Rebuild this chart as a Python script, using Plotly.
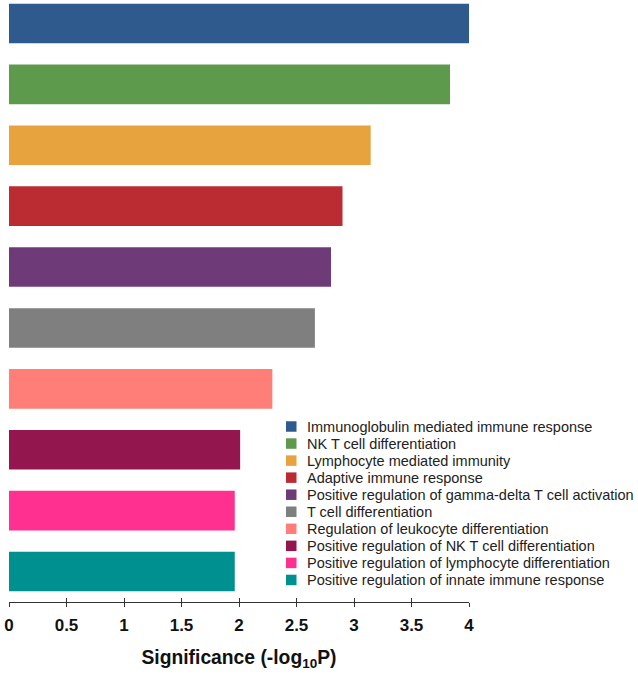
import plotly.graph_objects as go

categories = [
    "Immunoglobulin mediated immune response",
    "NK T cell differentiation",
    "Lymphocyte mediated immunity",
    "Adaptive immune response",
    "Positive regulation of gamma-delta T cell activation",
    "T cell differentiation",
    "Regulation of leukocyte differentiation",
    "Positive regulation of NK T cell differentiation",
    "Positive regulation of lymphocyte differentiation",
    "Positive regulation of innate immune response",
]
values = [4.00, 3.835, 3.145, 2.90, 2.80, 2.66, 2.29, 2.01, 1.963, 1.963]
colors = ["#2E5A8E", "#5E9A4C", "#E6A33E", "#BA2C32", "#6E3B78",
          "#7F7F7F", "#FF7F78", "#93174E", "#FF3090", "#00908F"]
x_ticks = [0, 0.5, 1, 1.5, 2, 2.5, 3, 3.5, 4]
x_ticktext = ["0", "0.5", "1", "1.5", "2", "2.5", "3", "3.5", "4"]

FONT = "Liberation Sans, Arial, Helvetica, sans-serif"
W, H = 638, 675
ML, MR, MT, MB = 9, 169, 0, 73
PW, PH = W - ML - MR, H - MT - MB

fig = go.Figure()
for cat, val, col in zip(categories, values, colors):
    fig.add_trace(go.Bar(
        x=[val], y=[cat], orientation="h", name=cat,
        marker=dict(color=col, line=dict(width=0)),
        width=0.65, showlegend=False,
    ))

# invisible trace so the overlaid axis (crossing tick marks) is drawn
fig.add_trace(go.Scatter(x=[0], y=[categories[-1]], xaxis="x2", mode="markers",
                         marker=dict(opacity=0), showlegend=False, hoverinfo="skip"))

# manual legend (square swatches + text), laid out in paper coordinates
sq = 10.5
leg_x0 = 286
leg_y0 = 426.5
leg_dy = 17.05
for i, (cat, col) in enumerate(zip(categories, colors)):
    cy = leg_y0 + i * leg_dy
    fig.add_shape(
        type="rect", xref="paper", yref="paper",
        x0=(leg_x0 - ML) / PW, x1=(leg_x0 + sq - ML) / PW,
        y0=(H - MB - (cy - sq / 2)) / PH, y1=(H - MB - (cy + sq / 2)) / PH,
        fillcolor=col, line=dict(width=0), layer="above",
    )
    fig.add_annotation(
        xref="paper", yref="paper",
        x=(305 - ML) / PW, y=(H - MB - cy) / PH,
        xanchor="left", yanchor="middle", showarrow=False,
        text=cat, font=dict(family=FONT, size=14.5, color="#222222"),
    )

fig.update_layout(
    width=W, height=H,
    margin=dict(l=ML, r=MR, t=MT, b=MB, autoexpand=False),
    barmode="overlay",
    plot_bgcolor="white", paper_bgcolor="white",
    font=dict(family=FONT, color="#222222"),
    showlegend=False,
    xaxis=dict(
        range=[0, 4], tickvals=x_ticks, ticktext=x_ticktext,
        showline=True, linecolor="#333333", linewidth=1.3,
        ticks="outside", ticklen=4, tickwidth=1.3, tickcolor="#333333",
        showgrid=False, zeroline=False,
        tickfont=dict(family=FONT, size=17, color="#111111", weight="bold"),
        ticklabelstandoff=3,
        title=dict(text="Significance (-log<sub>10</sub>P)",
                   font=dict(family=FONT, size=19.3, color="#111111", weight="bold"),
                   standoff=16),
    ),
    xaxis2=dict(
        range=[0, 4], tickvals=x_ticks, overlaying="x", anchor="y",
        side="bottom", ticks="inside", ticklen=4, tickwidth=1.3, tickcolor="#333333",
        showticklabels=False, showgrid=False, zeroline=False, showline=False,
    ),
    yaxis=dict(
        type="category", categoryorder="array", categoryarray=categories[::-1],
        range=[-0.5, 9.385], showticklabels=False, showgrid=False,
        zeroline=False, showline=False, ticks="",
    ),
)

fig.write_html("out.html", config={"displayModeBar": False},
               post_script="document.body.style.margin='0';document.body.style.padding='0';")
